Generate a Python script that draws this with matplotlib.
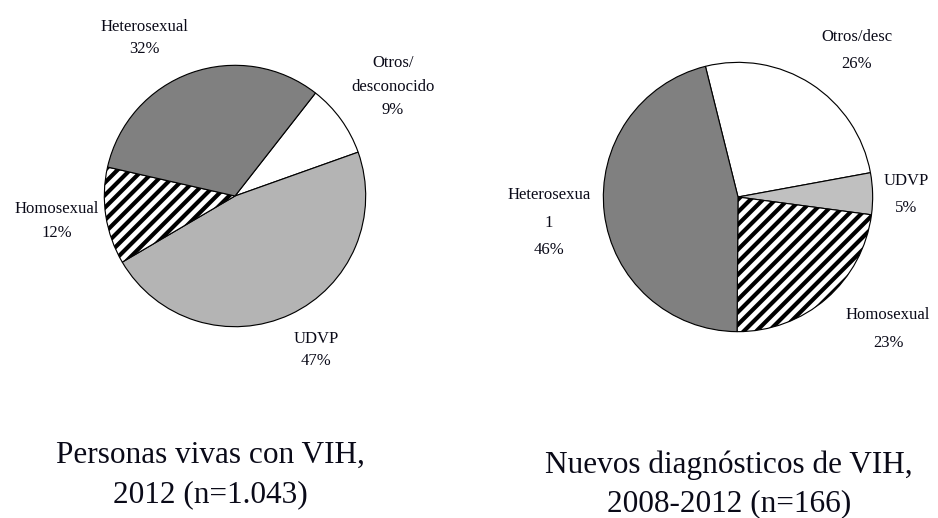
import matplotlib
matplotlib.use("Agg")
import matplotlib.pyplot as plt

plt.rcParams["font.family"] = ["Liberation Serif", "DejaVu Serif"]
plt.rcParams["hatch.linewidth"] = 4.0

# left pie: Personas vivas con VIH, 2012
left_labels = ["Otros/\ndesconocido\n9%", "UDVP\n47%", "Homosexual\n12%", "Heterosexual\n32%"]
left_values = [9, 47, 12, 32]
left_colors = ["#ffffff", "#b4b4b4", "#ffffff", "#808080"]
left_hatch = ["", "", "//", ""]
left_title = "Personas vivas con VIH,\n2012 (n=1.043)"

# right pie: Nuevos diagnósticos de VIH, 2008-2012
right_labels = ["Otros/desc\n26%", "UDVP\n5%", "Homosexual\n23%", "Heterosexua\n1\n46%"]
right_values = [26, 5, 23, 46]
right_colors = ["#ffffff", "#c0c0c0", "#ffffff", "#808080"]
right_hatch = ["", "", "//", ""]
right_title = "Nuevos diagnósticos de VIH,\n2008-2012 (n=166)"

W, H, DPI = 938, 518, 75
fig = plt.figure(figsize=(W / DPI, H / DPI), dpi=DPI)
fig.patch.set_facecolor("white")


def pie_axes(cx, cy, r):
    # pixel center/radius -> figure axes, pie drawn with radius 1
    ax = fig.add_axes([(cx - r) / W, 1 - (cy + r) / H, 2 * r / W, 2 * r / H])
    ax.axis("off")
    return ax


def draw_pie(ax, values, colors, hatches, start):
    wedges, _ = ax.pie(values, colors=colors, startangle=start, counterclock=False,
                       radius=1.0, center=(0, 0), frame=False,
                       wedgeprops=dict(edgecolor="black", linewidth=1.1))
    for w, h in zip(wedges, hatches):
        if h:
            w.set_hatch(h)
    ax.set_aspect("equal")
    ax.set_xlim(-1.01, 1.01)
    ax.set_ylim(-1.01, 1.01)


def put_lines(text, x, baselines, size):
    for line, y in zip(text.split("\n"), baselines):
        fig.text(x / W, 1 - y / H, line, ha="center", va="baseline", fontsize=size, color="#0a0a18")


axl = pie_axes(235, 196, 132)
draw_pie(axl, left_values, left_colors, left_hatch, 52)
axr = pie_axes(738, 197, 136)
draw_pie(axr, right_values, right_colors, right_hatch, 104)

# slice labels: center x and line baselines in pixels
left_pos = [(393, [67, 91, 114]), (316, [343, 365]), (57, [213, 237]), (144, [31, 53])]
right_pos = [(857, [41, 68]), (906, [185, 212]), (888, [319, 347]), (549, [199, 227, 254])]
for labels, pos in ((left_labels, left_pos), (right_labels, right_pos)):
    for lab, (x, ys) in zip(labels, pos):
        put_lines(lab, x, ys, 16)

put_lines(left_title, 210, [463, 502], 30)
put_lines(right_title, 729, [473, 511], 30)

fig.savefig("out.png", dpi=DPI, facecolor="white")
